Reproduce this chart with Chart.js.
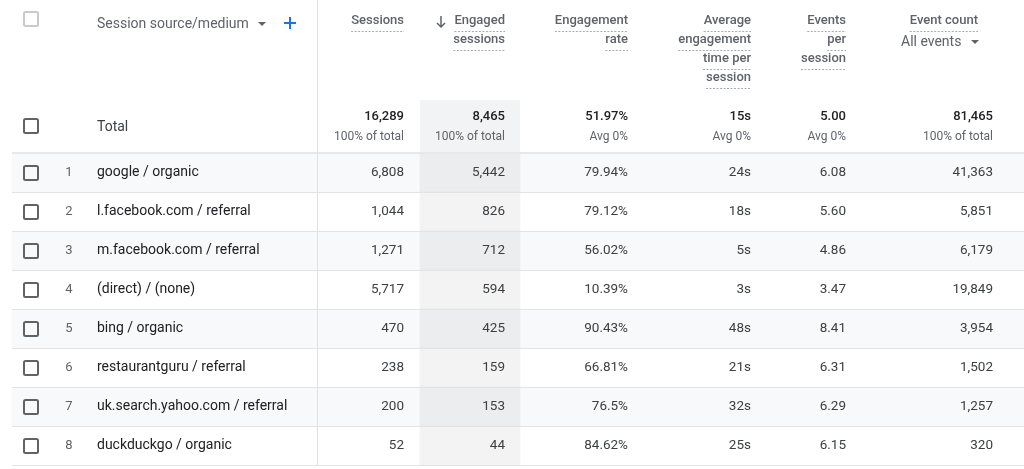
<!DOCTYPE html>
<html>
<head>
<meta charset="utf-8">
<script src="https://cdn.jsdelivr.net/npm/chart.js@4.4.1/dist/chart.umd.min.js"></script>
<style>
  html, body { margin: 0; padding: 0; background: #fff; }
  #wrap { width: 1024px; height: 469px; }
</style>
</head>
<body>
<div id="wrap"><canvas id="tableChart" width="1024" height="469"></canvas></div>
<script>
// table data
const sources = ['google / organic', 'l.facebook.com / referral', 'm.facebook.com / referral', '(direct) / (none)',
  'bing / organic', 'restaurantguru / referral', 'uk.search.yahoo.com / referral', 'duckduckgo / organic'];
const sessions = [6808, 1044, 1271, 5717, 470, 238, 200, 52];
const engagedSessions = [5442, 826, 712, 594, 425, 159, 153, 44];
const engagementRate = [79.94, 79.12, 56.02, 10.39, 90.43, 66.81, 76.5, 84.62];
const avgEngagementTime = [24, 18, 5, 3, 48, 21, 32, 25];
const eventsPerSession = [6.08, 5.60, 4.86, 3.47, 8.41, 6.31, 6.29, 6.15];
const eventCount = [41363, 5851, 6179, 19849, 3954, 1502, 1257, 320];

const totals = ['16,289', '8,465', '51.97%', '15s', '5.00', '81,465'];
const totalNotes = ['100% of total', '100% of total', 'Avg 0%', 'Avg 0%', 'Avg 0%', '100% of total'];
const headers = [
  ['Sessions'],
  ['Engaged', 'sessions'],
  ['Engagement', 'rate'],
  ['Average', 'engagement', 'time per', 'session'],
  ['Events', 'per', 'session'],
  ['Event count']
];

// layout / style
const FONT = 'Roboto, "Noto Sans", sans-serif';
const TEXT = '#3c4043';
const MUTED = '#5f6368';
const DARK = '#202124';
const LINE = '#e3e3e3';
const colRight = [404, 505, 628, 751, 846, 993];
const TABLE_LEFT = 12;
const DIVIDER_X = 317;
const SORT_COL = [420, 520];

const fmtInt = v => v.toLocaleString('en-US');
const rowCells = i => [
  fmtInt(sessions[i]),
  fmtInt(engagedSessions[i]),
  engagementRate[i] + '%',
  avgEngagementTime[i] + 's',
  eventsPerSession[i].toFixed(2),
  fmtInt(eventCount[i])
];

function drawCheckbox(c, yc, color) {
  c.save();
  c.strokeStyle = color;
  c.lineWidth = 2;
  c.beginPath();
  c.roundRect(24, Math.round(yc) - 7, 14, 14, 1.5);
  c.stroke();
  c.restore();
}

function drawTriangle(c, x, y) {
  c.save();
  c.fillStyle = MUTED;
  c.beginPath();
  c.moveTo(x - 4, y - 2);
  c.lineTo(x + 4, y - 2);
  c.lineTo(x, y + 2);
  c.closePath();
  c.fill();
  c.restore();
}

function underline(c, x1, x2, y) {
  c.save();
  c.strokeStyle = '#a8acb1';
  c.lineWidth = 1;
  c.setLineDash([2, 1.5]);
  c.beginPath();
  c.moveTo(x1, y + 0.5);
  c.lineTo(x2, y + 0.5);
  c.stroke();
  c.restore();
}

const tablePlugin = {
  id: 'tablePlugin',
  beforeDatasetsDraw(chart) {
    const c = chart.ctx;
    const area = chart.chartArea;
    // sorted column in total row
    c.fillStyle = '#f1f3f4';
    c.fillRect(SORT_COL[0], 100, SORT_COL[1] - SORT_COL[0], area.top - 100);
  },
  afterDatasetsDraw(chart) {
    const c = chart.ctx;
    const y = chart.scales.y;
    const area = chart.chartArea;
    const half = (y.getPixelForValue(1) - y.getPixelForValue(0)) / 2;

    // row lines
    c.save();
    c.strokeStyle = '#e6e8eb';
    c.lineWidth = 2;
    c.beginPath();
    c.moveTo(TABLE_LEFT, area.top);
    c.lineTo(area.right, area.top);
    c.stroke();
    c.strokeStyle = LINE;
    c.lineWidth = 1;
    sources.forEach((s, i) => {
      const yb = Math.round(y.getPixelForValue(i) + half) + 0.5;
      c.beginPath();
      c.moveTo(TABLE_LEFT, yb);
      c.lineTo(area.right, yb);
      c.stroke();
    });
    // vertical divider
    c.strokeStyle = '#dfe1e4';
    c.beginPath();
    c.moveTo(DIVIDER_X + 0.5, 0);
    c.lineTo(DIVIDER_X + 0.5, area.bottom);
    c.stroke();
    c.restore();

    c.save();
    c.textBaseline = 'middle';

    // header row
    drawCheckbox(c, 19, '#c8cacd');
    c.font = '14px ' + FONT;
    c.fillStyle = MUTED;
    c.textAlign = 'left';
    c.fillText('Session source/medium', 97, 24);
    drawTriangle(c, 262, 24);
    c.strokeStyle = '#1a73e8';
    c.lineWidth = 2;
    c.beginPath();
    c.moveTo(284, 23); c.lineTo(296, 23);
    c.moveTo(290, 17); c.lineTo(290, 29);
    c.stroke();

    c.font = '500 13px ' + FONT;
    headers.forEach((lines, k) => {
      const right = k === 5 ? 978 : colRight[k];
      lines.forEach((t, j) => {
        const yc = 21 + j * 19;
        c.fillStyle = MUTED;
        c.textAlign = 'right';
        c.fillText(t, right, yc);
        const w = c.measureText(t).width;
        underline(c, right - w, right, yc + 10);
      });
    });
    // sort arrow
    c.strokeStyle = MUTED;
    c.lineWidth = 1.5;
    c.beginPath();
    c.moveTo(441, 16); c.lineTo(441, 27);
    c.moveTo(437, 23); c.lineTo(441, 27); c.lineTo(445, 23);
    c.stroke();
    // event filter
    c.font = '14px ' + FONT;
    c.textAlign = 'left';
    c.fillStyle = MUTED;
    c.fillText('All events', 901, 42);
    drawTriangle(c, 975, 42);

    // total row
    drawCheckbox(c, 126, MUTED);
    c.font = '14px ' + FONT;
    c.fillStyle = TEXT;
    c.fillText('Total', 97, 127);
    c.textAlign = 'right';
    totals.forEach((t, k) => {
      c.font = '500 13px ' + FONT;
      c.fillStyle = DARK;
      c.fillText(t, colRight[k], 117);
      c.font = '12px ' + FONT;
      c.fillStyle = MUTED;
      c.fillText(totalNotes[k], colRight[k], 137);
    });

    // body rows
    sources.forEach((s, i) => {
      const yc = y.getPixelForValue(i);
      drawCheckbox(c, yc, MUTED);
      c.font = '13px ' + FONT;
      c.textAlign = 'center';
      c.fillStyle = MUTED;
      c.fillText(String(i + 1), 69, yc);
      c.font = '14px ' + FONT;
      c.textAlign = 'left';
      c.fillStyle = DARK;
      c.fillText(s, 97, yc);
      c.font = '13.5px ' + FONT;
      c.textAlign = 'right';
      c.fillStyle = TEXT;
      rowCells(i).forEach((t, k) => c.fillText(t, colRight[k], yc));
    });
    c.restore();
  }
};

const ctx = document.getElementById('tableChart').getContext('2d');
const chart = new Chart(ctx, {
  type: 'bar',
  data: {
    labels: sources,
    datasets: [{
      label: 'row shading',
      data: sources.map((s, i) => i % 2 === 0 ? [TABLE_LEFT, 1024] : null),
      backgroundColor: '#f8f9fb',
      barPercentage: 1,
      categoryPercentage: 1,
      grouped: false,
      order: 2
    }, {
      label: 'sorted column',
      data: sources.map(() => SORT_COL),
      backgroundColor: 'rgba(32,33,36,0.055)',
      barPercentage: 1,
      categoryPercentage: 1,
      grouped: false,
      order: 1
    }]
  },
  options: {
    indexAxis: 'y',
    responsive: false,
    animation: false,
    devicePixelRatio: 1,
    layout: { padding: { top: 153, bottom: 4, left: 0, right: 0 } },
    plugins: { legend: { display: false }, tooltip: { enabled: false } },
    scales: {
      x: { type: 'linear', min: 0, max: 1024, display: false },
      y: { type: 'category', display: false, offset: true }
    }
  },
  plugins: [tablePlugin]
});
</script>
</body>
</html>
